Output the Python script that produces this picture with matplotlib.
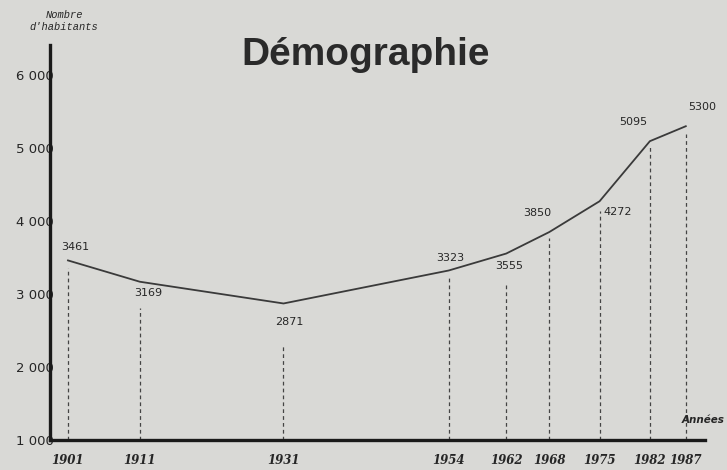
import matplotlib
matplotlib.use("Agg")
import matplotlib.pyplot as plt

# population by census year
years = [1901, 1911, 1931, 1954, 1962, 1968, 1975, 1982, 1987]
habitants = [3461, 3169, 2871, 3323, 3555, 3850, 4272, 5095, 5300]
yticks = [1000, 2000, 3000, 4000, 5000, 6000]
yticklabels = ["1 000", "2 000", "3 000", "4 000", "5 000", "6 000"]

# label offsets (points) and gap between point and top of dashed line
label_offsets = [(5, 10), (6, -8), (4, -13), (1, 9), (2, -9), (-9, 14), (13, -8), (-12, 14), (12, 14)]
dash_gaps = [100, 360, 550, 100, 400, 80, 130, 80, 100]

bg = "#d9d9d6"
ink = "#262626"

fig = plt.figure(figsize=(7.27, 4.70), dpi=100, facecolor=bg)
ax = fig.add_axes([0.0688, 0.0638, 0.9012, 0.84])
ax.set_facecolor(bg)

ax.plot(years, habitants, color="#3a3a3a", lw=1.3, zorder=3)

tops = [v - g for v, g in zip(habitants, dash_gaps)]
ax.vlines(years, 1000, tops, colors="#444444", linestyles=(0, (3, 2.5)), lw=0.9)

for x, v, off in zip(years, habitants, label_offsets):
    ax.annotate(str(v), (x, v), xytext=off, textcoords="offset points",
                ha="center", va="center", fontsize=8, color=ink)

ax.set_xlim(1898.5, 1989.7)
ax.set_ylim(1000, 6410)

for s in ["top", "right"]:
    ax.spines[s].set_visible(False)
for s in ["left", "bottom"]:
    ax.spines[s].set_linewidth(2.4)
    ax.spines[s].set_color("#1a1a1a")

ax.set_yticks(yticks)
ax.set_yticklabels(yticklabels, fontsize=9.5, color=ink)
ax.tick_params(axis="y", length=0, pad=-3)
ax.set_xticks(years)
ax.set_xticklabels([str(y) for y in years], fontsize=8.5, color=ink,
                   family="DejaVu Serif", fontweight="bold", style="italic")
ax.tick_params(axis="x", length=0, pad=10)

fig.text(0.503, 0.883, "Démographie", ha="center", va="center",
         fontsize=28, fontweight="bold", family="Liberation Sans", color="#2a2a2a")
fig.text(0.088, 0.955, "Nombre\nd'habitants", ha="center", va="center",
         fontsize=7.5, family="Liberation Mono", style="italic", color=ink, linespacing=1.3)
fig.text(0.967, 0.107, "Années", ha="center", va="center",
         fontsize=7.5, fontweight="bold", style="italic", color=ink)

fig.savefig("out.png", dpi=100, facecolor=bg)
